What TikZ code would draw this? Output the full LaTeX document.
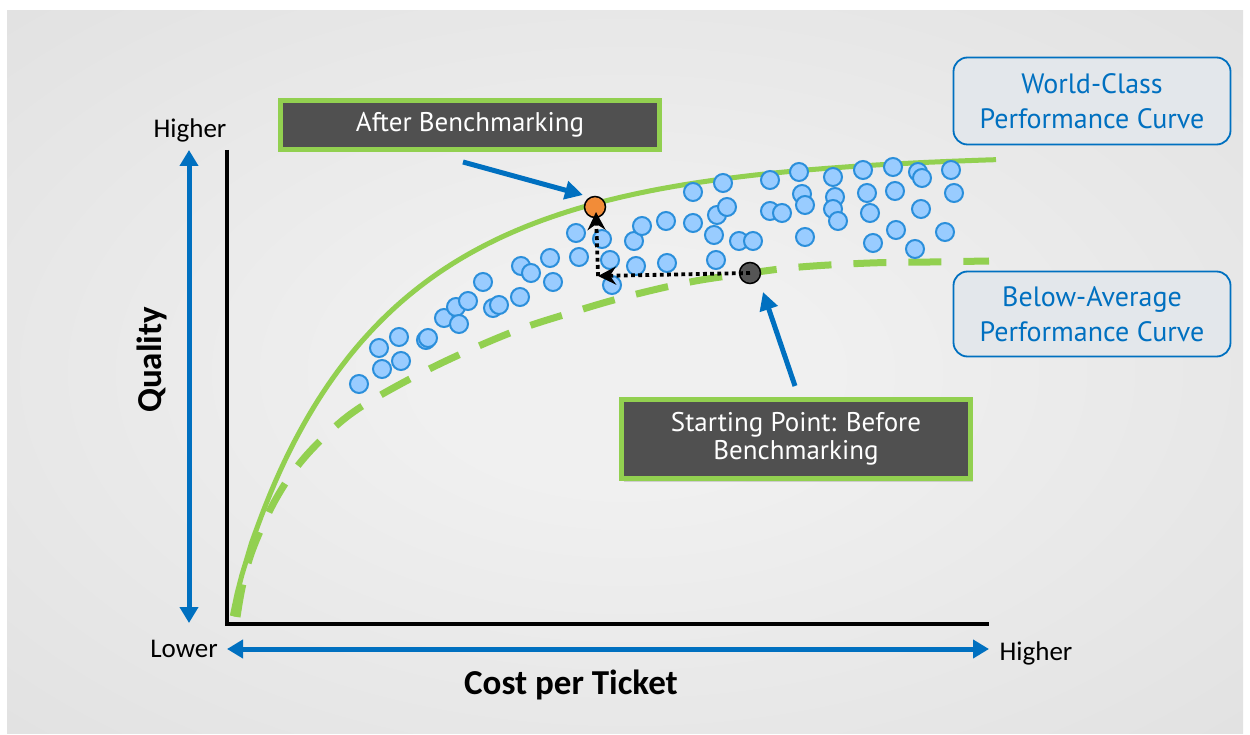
\documentclass[tikz,border=0pt]{standalone}
\usepackage{fontspec}
\setmainfont{PT Sans}
\newfontfamily\axfont{Carlito}
\usetikzlibrary{arrows.meta,shadows}
\definecolor{gr}{HTML}{92D050}
\definecolor{bl}{HTML}{0070C0}
\definecolor{dotfill}{HTML}{99CCFF}
\definecolor{dotline}{HTML}{2B8FDB}
\definecolor{dark}{HTML}{505050}
\definecolor{org}{HTML}{F28C38}
\definecolor{startdot}{HTML}{555555}
\definecolor{bgin}{HTML}{F0F0F0}
\definecolor{bgout}{HTML}{CFCFCF}
\definecolor{boxfill}{HTML}{E3E7EB}
\pgfdeclareradialshading{bgshade}{\pgfpoint{0bp}{0bp}}{color(0bp)=(bgin); color(8bp)=(bgin); color(72bp)=(bgout)}
\tikzset{
  darkbox/.style={draw=gr, line width=5pt, fill=dark, text=white, align=center, inner sep=0pt,
    font=\fontsize{27}{28}\selectfont,
    drop shadow={opacity=0.3, shadow xshift=2pt, shadow yshift=-3pt}},
  bluebox/.style={draw=bl, line width=1.8pt, rounded corners=14pt, fill=boxfill, text=bl, align=center,
    inner sep=0pt, font=\fontsize{28}{35}\selectfont},
  dot/.style={circle, draw=dotline, fill=dotfill, line width=2pt, minimum size=18pt, inner sep=0pt},
  keydot/.style={circle, draw=black, line width=1.5pt, minimum size=21pt, inner sep=0pt},
  axlbl/.style={font=\axfont\fontsize{27}{30}\selectfont, text=black, inner sep=0pt},
  axtitle/.style={font=\axfont\bfseries\fontsize{35}{40}\selectfont, text=black, inner sep=0pt},
  axisline/.style={black, line width=4.5pt},
  bluearrow/.style={bl, line width=5pt, {Triangle[length=16pt,width=18pt]}-{Triangle[length=16pt,width=18pt]}},
  ptr/.style={bl, line width=5pt, -{Triangle[length=18pt,width=18pt]}},
  dotarr/.style={black, line width=3.8pt, dash pattern=on 3.8pt off 3.4pt, -{Stealth[length=18pt,width=18pt,inset=6pt]}},
  curve/.style={gr, line width=5pt},
  dcurve/.style={gr, line width=7pt, dash pattern=on 33pt off 22pt}
}
\begin{document}
\begin{tikzpicture}[x=1pt,y=-1pt]
\useasboundingbox (0,0) rectangle (1250,735);
\fill[white] (0,0) rectangle (1250,735);
\shade[shading=bgshade] (7,11) rectangle (1243,733);

% curves
\draw[curve] plot[domain=232.3:996, samples=160] (\x, {618-465*(1-exp(-pow((\x-232)/145.7,0.872)))});
\draw[dcurve] plot[smooth, tension=0.6] coordinates {(237,617) (242,588) (250,557) (262,527) (277,497) (296,468) (320,441) (352,413) (395,387) (450,359) (515,331) (570,313) (625,297) (690,282) (750,273) (800,267) (870,263) (930,262) (989,261)};

% axes
\coordinate (ytop) at (227,150);
\coordinate (origin) at (227,624);
\coordinate (xend) at (989,624);
\draw[axisline] (ytop) -- (origin) -- (xend);

\coordinate (ya) at (189,150);
\coordinate (yb) at (189,623);
\draw[bluearrow] (ya) -- (yb);
\coordinate (xa) at (227,649);
\coordinate (xb) at (989,649);
\draw[bluearrow] (xa) -- (xb);

\node[axlbl] (yhigh) at (190,130) {Higher};
\node[axlbl] (xlow) at (184,649) {Lower};
\node[axlbl] (xhigh) at (1036,653) {Higher};
\node[axtitle] (xtitle) at (571,685) {Cost per Ticket};
\node[axtitle, rotate=90] (ytitle) at (152,360) {Quality};

% dots
\foreach \x/\y [count=\i] in {359/384,382/369,379/348,399/337,401/361,426/340,428/338,444/318,456/307,459/324,468/301,483/282,493/308,499/305,520/297,521/266,531/273,550/258,553/282,579/257,576/233,602/239,610/260,612/285,634/241,636/266,642/226,666/221,667/263,693/223,693/192,714/235,717/215,727/207,716/260,739/241,753/241,723/183,770/180,770/211,782/213,799/172,802/194,805/205,805/237,833/177,835/197,833/209,838/221,863/170,867/193,870/213,873/243,893/167,895/191,896/230,915/249,918/172,922/178,921/209,945/232,951/170,954/193}
  \node[dot] (d\i) at (\x,\y) {};

\node[keydot, fill=startdot] (start) at (750,273) {};
\node[keydot, fill=org] (after) at (595,207) {};

% dotted path
\coordinate (corner) at (598,276);
\coordinate (aftertip) at (596,212);
\draw[dotarr] (start.center) -- (corner);
\draw[dotarr] (corner) -- (aftertip);

% boxes
\node[darkbox, minimum width=379pt, minimum height=49pt] (abox) at (470,125) {After Benchmarking};
\node[darkbox, minimum width=349pt, minimum height=79pt] (sbox) at (796,439) {Starting Point: Before\\Benchmarking};
\node[bluebox, minimum width=277pt, minimum height=87pt] (wbox) at (1092,101) {World-Class\\Performance Curve};
\node[bluebox, minimum width=277pt, minimum height=85pt] (bbox) at (1092,314) {Below-Average\\Performance Curve};

% pointers
\coordinate (p1s) at (463,162);
\coordinate (p1e) at (583,195);
\draw[ptr] (p1s) -- (p1e);
\coordinate (p2s) at (795,386);
\coordinate (p2e) at (763,292);
\draw[ptr] (p2s) -- (p2e);
\end{tikzpicture}
\end{document}
